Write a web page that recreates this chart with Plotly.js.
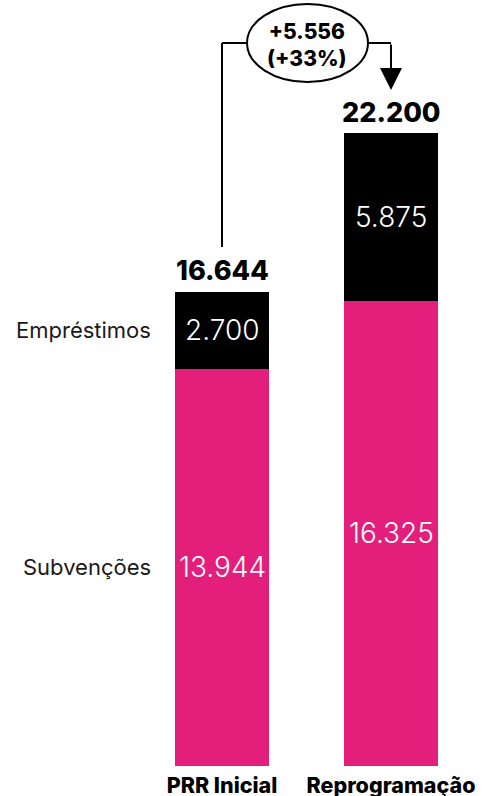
<!DOCTYPE html>
<html>
<head>
<meta charset="utf-8">
<script src="https://cdn.plot.ly/plotly-3.0.1.min.js"></script>
<style>html,body{margin:0;padding:0;background:#fff;}#chart{width:483px;height:796px;}</style>
</head>
<body>
<div id="chart"></div>
<script>
// ---- data ----
var categories = ['PRR Inicial', 'Reprogramação'];
var seriesNames = ['Subvenções', 'Empréstimos'];
var subvencoes = [13944, 16325];
var emprestimos = [2700, 5875];
var totals = [16644, 22200];
var diffText = ['+5.556', '(+33%)'];

var PINK = '#e31e7b';
var FONT = 'Inter, "Open Sans", sans-serif';

function fmt(v) { return String(v).replace(/\B(?=(\d{3})+(?!\d))/g, '.'); }

var W = 483, H = 796, B = 30;
var plotH = H - B;
var yMax = 26877;
var xr = [-1.31361, 1.54438];
var pxPerX = W / (xr[1] - xr[0]);
function xd(px) { return xr[0] + px / pxPerX; }
function yd(px) { return (plotH - px) * yMax / plotH; }

var xpos = categories.map(function (c, i) { return i; });

var traces = [
  { type: 'bar', x: xpos, y: subvencoes, name: seriesNames[0], marker: { color: PINK }, width: 0.556, hoverinfo: 'skip' },
  { type: 'bar', x: xpos, y: emprestimos, name: seriesNames[1], marker: { color: '#000000' }, width: 0.556, hoverinfo: 'skip' }
];

var ann = [];
// value labels inside segments
xpos.forEach(function (x, i) {
  ann.push({ x: x, y: subvencoes[i] / 2, text: fmt(subvencoes[i]), showarrow: false,
    font: { family: FONT, size: 28, color: '#ffffff', weight: 300 }, xanchor: 'center', yanchor: 'middle' });
  ann.push({ x: x, y: subvencoes[i] + emprestimos[i] / 2, text: fmt(emprestimos[i]), showarrow: false,
    font: { family: FONT, size: 28, color: '#ffffff', weight: 300 }, xanchor: 'center', yanchor: 'middle' });
  ann.push({ x: x, y: totals[i], text: fmt(totals[i]), showarrow: false, yshift: 21,
    font: { family: FONT, size: 27, color: '#000000', weight: 800 }, xanchor: 'center', yanchor: 'middle' });
});
// series labels on the left
ann.push({ x: xd(153), y: subvencoes[0] + emprestimos[0] / 2, text: seriesNames[1], showarrow: false,
  font: { family: FONT, size: 22, color: '#1a1a1a', weight: 400 }, xanchor: 'right', yanchor: 'middle' });
ann.push({ x: xd(153), y: subvencoes[0] / 2, text: seriesNames[0], showarrow: false,
  font: { family: FONT, size: 22, color: '#1a1a1a', weight: 400 }, xanchor: 'right', yanchor: 'middle' });
// difference bubble text
ann.push({ x: 0.5, y: yd(45), text: diffText.join('<br>'), showarrow: false,
  font: { family: FONT, size: 21, color: '#000000', weight: 800 }, xanchor: 'center', yanchor: 'middle' });
// arrow down to second bar
ann.push({ x: 1, y: yd(90), ax: 1, ay: yd(43), axref: 'x', ayref: 'y', xref: 'x', yref: 'y',
  showarrow: true, arrowhead: 2, arrowsize: 2.2, arrowwidth: 2, arrowcolor: '#000000', text: '' });

var shapes = [
  { type: 'line', x0: 0, x1: 0, y0: yd(247), y1: yd(43), line: { color: '#000', width: 2 } },
  { type: 'line', x0: 0, x1: xd(247), y0: yd(43), y1: yd(43), line: { color: '#000', width: 2 } },
  { type: 'line', x0: xd(368), x1: 1, y0: yd(43), y1: yd(43), line: { color: '#000', width: 2 } },
  { type: 'circle', x0: xd(247), x1: xd(368), y0: yd(82), y1: yd(4), line: { color: '#000', width: 2 }, fillcolor: 'rgba(0,0,0,0)' }
];

var layout = {
  width: W, height: H,
  margin: { l: 0, r: 0, t: 0, b: B, pad: 0 },
  barmode: 'stack',
  showlegend: false,
  paper_bgcolor: '#ffffff', plot_bgcolor: '#ffffff',
  xaxis: { range: xr, tickvals: xpos, ticktext: categories, showgrid: false, zeroline: false, showline: false,
    ticks: '', ticklen: 0, ticklabelstandoff: 4, tickfont: { family: FONT, size: 21.5, color: '#000', weight: 800 }, fixedrange: true },
  yaxis: { range: [0, yMax], visible: false, showgrid: false, zeroline: false, fixedrange: true },
  annotations: ann,
  shapes: shapes
};

Plotly.newPlot('chart', traces, layout, { displayModeBar: false, staticPlot: true });
</script>
</body>
</html>
